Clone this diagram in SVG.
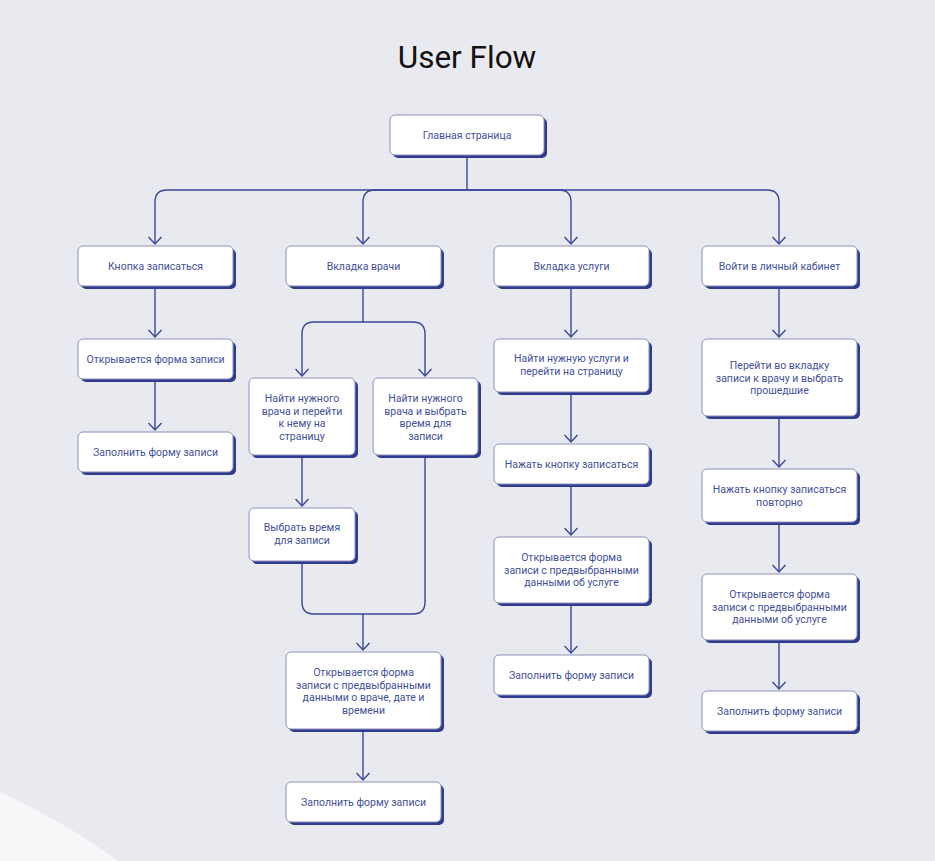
<svg xmlns="http://www.w3.org/2000/svg" width="935" height="861" viewBox="0 0 935 861">
<defs>
<style>
.sh{fill:#2f3b8f}
.bx{fill:#ffffff;stroke:#8c91b8;stroke-width:1}
.t{font-family:Roboto,"Liberation Sans",sans-serif;font-size:10.5px;fill:#434f99;text-anchor:middle}
.c{fill:none;stroke:#3a4699;stroke-width:1.4}
.ttl{font-family:Roboto,"Liberation Sans",sans-serif;font-size:31.5px;fill:#111111;text-anchor:middle}
</style>
<marker id="ar" viewBox="0 0 10 14" refX="8" refY="7" markerWidth="10" markerHeight="14" markerUnits="userSpaceOnUse" orient="auto">
<path d="M1,0.5 L8,7 L1,13.5" fill="none" stroke="#3a4699" stroke-width="1.4"/>
</marker>
</defs>
<rect width="935" height="861" fill="#e9eaf0"/>
<path d="M0,792 Q70,825 118,861 L0,861 Z" fill="#f7f7f9"/>
<text class="ttl" x="467" y="68">User Flow</text>

<g id="connectors">
<path class="c" d="M467,155 V190 H167 Q155,190 155,202 V244" marker-end="url(#ar)"/>
<path class="c" d="M467,190 H375 Q363,190 363,202 V244" marker-end="url(#ar)"/>
<path class="c" d="M467,190 H559 Q571,190 571,202 V244" marker-end="url(#ar)"/>
<path class="c" d="M467,190 H767 Q779,190 779,202 V244" marker-end="url(#ar)"/>
<path class="c" d="M155,287 V337" marker-end="url(#ar)"/>
<path class="c" d="M155,380 V430" marker-end="url(#ar)"/>
<path class="c" d="M363,287 V322 H314 Q302,322 302,334 V376" marker-end="url(#ar)"/>
<path class="c" d="M363,322 H413 Q425,322 425,334 V376" marker-end="url(#ar)"/>
<path class="c" d="M302,455 V506" marker-end="url(#ar)"/>
<path class="c" d="M302,562 V602 Q302,614 314,614 H413 Q425,614 425,602 V455"/>
<path class="c" d="M363,614 V650" marker-end="url(#ar)"/>
<path class="c" d="M363,729 V780" marker-end="url(#ar)"/>
<path class="c" d="M571,287 V337" marker-end="url(#ar)"/>
<path class="c" d="M571,392 V442" marker-end="url(#ar)"/>
<path class="c" d="M571,484 V535" marker-end="url(#ar)"/>
<path class="c" d="M571,603 V653" marker-end="url(#ar)"/>
<path class="c" d="M779,287 V337" marker-end="url(#ar)"/>
<path class="c" d="M779,416 V467" marker-end="url(#ar)"/>
<path class="c" d="M779,522 V572" marker-end="url(#ar)"/>
<path class="c" d="M779,640 V689" marker-end="url(#ar)"/>
</g>

<g id="n-main"><rect class="sh" x="393" y="118" width="154" height="40" rx="5"/><rect class="bx" x="390" y="115" width="154" height="40" rx="5"/><text class="t" x="467" y="138.5">Главная страница</text></g>

<g id="n-btn"><rect class="sh" x="81" y="249" width="155" height="40" rx="5"/><rect class="bx" x="78" y="246" width="155" height="40" rx="5"/><text class="t" x="155.5" y="270">Кнопка записаться</text></g>
<g id="n-docs"><rect class="sh" x="289" y="249" width="155" height="40" rx="5"/><rect class="bx" x="286" y="246" width="155" height="40" rx="5"/><text class="t" x="363.5" y="270">Вкладка врачи</text></g>
<g id="n-serv"><rect class="sh" x="497" y="249" width="155" height="40" rx="5"/><rect class="bx" x="494" y="246" width="155" height="40" rx="5"/><text class="t" x="571.5" y="270">Вкладка услуги</text></g>
<g id="n-cab"><rect class="sh" x="705" y="249" width="155" height="40" rx="5"/><rect class="bx" x="702" y="246" width="155" height="40" rx="5"/><text class="t" x="779.5" y="270">Войти в личный кабинет</text></g>

<g id="n-c1a"><rect class="sh" x="81" y="342" width="155" height="40" rx="5"/><rect class="bx" x="78" y="339" width="155" height="40" rx="5"/><text class="t" x="155.5" y="363">Открывается форма записи</text></g>
<g id="n-c1b"><rect class="sh" x="81" y="435" width="155" height="40" rx="5"/><rect class="bx" x="78" y="432" width="155" height="40" rx="5"/><text class="t" x="155.5" y="456">Заполнить форму записи</text></g>

<g id="n-c2a"><rect class="sh" x="252" y="381" width="106" height="77" rx="5"/><rect class="bx" x="249" y="378" width="106" height="77" rx="5"/><text class="t" x="302" y="402"><tspan x="302">Найти нужного</tspan><tspan x="302" dy="12.5">врача и перейти</tspan><tspan x="302" dy="12.5">к нему на</tspan><tspan x="302" dy="12.5">страницу</tspan></text></g>
<g id="n-c2b"><rect class="sh" x="376" y="381" width="105" height="77" rx="5"/><rect class="bx" x="373" y="378" width="105" height="77" rx="5"/><text class="t" x="425.5" y="402"><tspan x="425.5">Найти нужного</tspan><tspan x="425.5" dy="12.5">врача и выбрать</tspan><tspan x="425.5" dy="12.5">время для</tspan><tspan x="425.5" dy="12.5">записи</tspan></text></g>
<g id="n-c2c"><rect class="sh" x="252" y="511" width="106" height="53" rx="5"/><rect class="bx" x="249" y="508" width="106" height="53" rx="5"/><text class="t" x="302" y="531"><tspan x="302">Выбрать время</tspan><tspan x="302" dy="12.5">для записи</tspan></text></g>
<g id="n-c2d"><rect class="sh" x="289" y="655" width="155" height="77" rx="5"/><rect class="bx" x="286" y="652" width="155" height="77" rx="5"/><text class="t" x="363.5" y="676"><tspan x="363.5">Открывается форма</tspan><tspan x="363.5" dy="12.5">записи с предвыбранными</tspan><tspan x="363.5" dy="12.5">данными о враче, дате и</tspan><tspan x="363.5" dy="12.5">времени</tspan></text></g>
<g id="n-c2e"><rect class="sh" x="289" y="785" width="155" height="40" rx="5"/><rect class="bx" x="286" y="782" width="155" height="40" rx="5"/><text class="t" x="363.5" y="806">Заполнить форму записи</text></g>

<g id="n-c3a"><rect class="sh" x="497" y="342" width="155" height="53" rx="5"/><rect class="bx" x="494" y="339" width="155" height="53" rx="5"/><text class="t" x="571.5" y="362"><tspan x="571.5">Найти нужную услуги и</tspan><tspan x="571.5" dy="12.5">перейти на страницу</tspan></text></g>
<g id="n-c3b"><rect class="sh" x="497" y="447" width="155" height="40" rx="5"/><rect class="bx" x="494" y="444" width="155" height="40" rx="5"/><text class="t" x="571.5" y="468">Нажать кнопку записаться</text></g>
<g id="n-c3c"><rect class="sh" x="497" y="540" width="155" height="66" rx="5"/><rect class="bx" x="494" y="537" width="155" height="66" rx="5"/><text class="t" x="571.5" y="561"><tspan x="571.5">Открывается форма</tspan><tspan x="571.5" dy="12.5">записи с предвыбранными</tspan><tspan x="571.5" dy="12.5">данными об услуге</tspan></text></g>
<g id="n-c3d"><rect class="sh" x="497" y="658" width="155" height="40" rx="5"/><rect class="bx" x="494" y="655" width="155" height="40" rx="5"/><text class="t" x="571.5" y="679">Заполнить форму записи</text></g>

<g id="n-c4a"><rect class="sh" x="705" y="342" width="155" height="77" rx="5"/><rect class="bx" x="702" y="339" width="155" height="77" rx="5"/><text class="t" x="779.5" y="369"><tspan x="779.5">Перейти во вкладку</tspan><tspan x="779.5" dy="12.5">записи к врачу и выбрать</tspan><tspan x="779.5" dy="12.5">прошедшие</tspan></text></g>
<g id="n-c4b"><rect class="sh" x="705" y="472" width="155" height="53" rx="5"/><rect class="bx" x="702" y="469" width="155" height="53" rx="5"/><text class="t" x="779.5" y="493"><tspan x="779.5">Нажать кнопку записаться</tspan><tspan x="779.5" dy="12.5">повторно</tspan></text></g>
<g id="n-c4c"><rect class="sh" x="705" y="577" width="155" height="66" rx="5"/><rect class="bx" x="702" y="574" width="155" height="66" rx="5"/><text class="t" x="779.5" y="598"><tspan x="779.5">Открывается форма</tspan><tspan x="779.5" dy="12.5">записи с предвыбранными</tspan><tspan x="779.5" dy="12.5">данными об услуге</tspan></text></g>
<g id="n-c4d"><rect class="sh" x="705" y="694" width="155" height="40" rx="5"/><rect class="bx" x="702" y="691" width="155" height="40" rx="5"/><text class="t" x="779.5" y="715">Заполнить форму записи</text></g>
</svg>
